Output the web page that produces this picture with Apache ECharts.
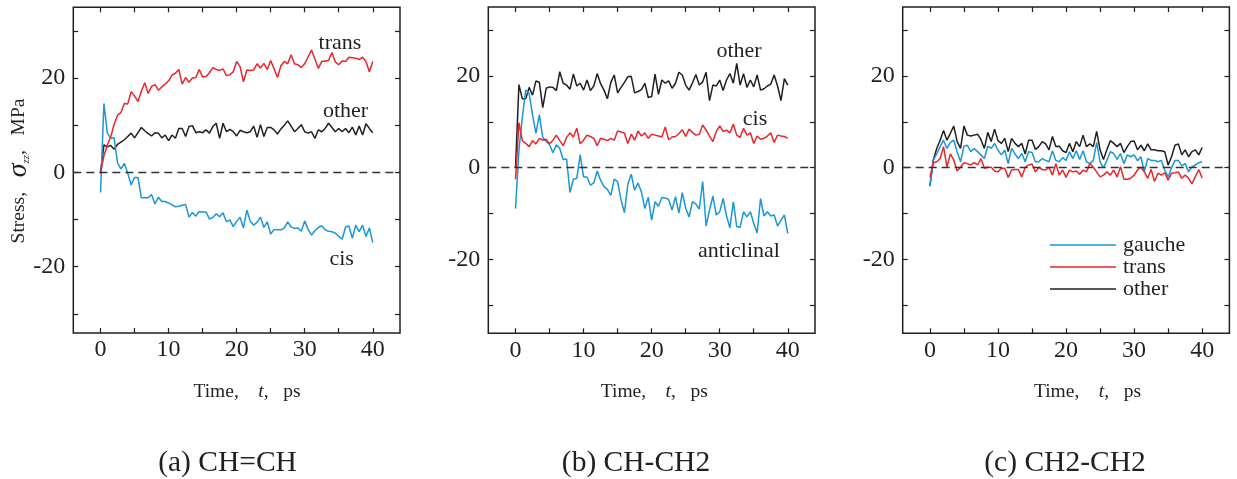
<!DOCTYPE html>
<html><head><meta charset="utf-8">
<script src="https://cdn.jsdelivr.net/npm/echarts@6/dist/echarts.min.js"></script>
<style>html,body{margin:0;padding:0;background:#fff}#c{width:1237px;height:479px}</style>
</head><body><div id="c"></div>
<script>
const time = [0,0.5,1,1.5,2,2.5,3,3.5,4,4.5,5,5.5,6,6.5,7,7.5,8,8.5,9,9.5,10,10.5,11,11.5,12,12.5,13,13.5,14,14.5,15,15.5,16,16.5,17,17.5,18,18.5,19,19.5,20,20.5,21,21.5,22,22.5,23,23.5,24,24.5,25,25.5,26,26.5,27,27.5,28,28.5,29,29.5,30,30.5,31,31.5,32,32.5,33,33.5,34,34.5,35,35.5,36,36.5,37,37.5,38,38.5,39,39.5,40];
// (a) CH=CH
const aTrans = [0,3.5,5.8,7.5,10.2,12.1,12.7,14.6,14.5,17.1,16.2,15.0,17.2,19.0,16.7,18.2,18.6,17.4,18.1,18.7,19.4,20.6,21.0,21.8,18.7,20.1,19.1,20.0,20.1,21.8,20.2,20.3,21.1,22.2,21.8,21.6,21.9,20.5,20.7,21.3,23.5,22.4,19.2,21.7,21.6,21.7,23.0,22.1,23.1,21.8,23.7,21.9,20.1,22.6,23.5,23.0,24.9,23.0,22.8,22.2,23.0,24.5,25.9,24.0,22.0,23.5,23.6,23.7,25.4,23.4,22.8,23.6,23.5,24.4,24.3,24.2,23.9,24.4,23.5,21.3,23.5];
const aOther = [0,5.8,5.4,5.7,4.9,5.9,6.4,6.9,7.6,8.3,7.3,8.4,9.5,8.8,8.2,7.7,8.4,8.3,7.3,7.9,6.7,7.9,7.2,9.3,9.3,7.6,9.7,9.9,8.4,8.6,8.4,9.0,8.3,9.7,10.4,7.2,10.4,8.6,9.1,8.6,7.7,8.9,8.6,8.4,8.6,9.8,7.4,10.1,7.6,9.5,9.5,9.0,8.1,9.2,10.0,10.9,9.8,8.6,9.3,10.1,8.6,8.3,8.6,7.2,9.0,8.6,9.3,10.4,9.5,8.6,9.3,8.6,9.3,8.4,9.6,7.9,9.8,7.9,10.3,9.3,8.4];
const aCis = [-4.3,14.6,8.3,7.2,7.3,2.0,0.7,1.9,-0.2,-2.7,-1.1,-1.1,-5.4,-5.4,-5.4,-4.7,-6.7,-5.3,-6.2,-6.2,-6.5,-6.9,-7.3,-7.2,-7.0,-6.8,-9.5,-8.5,-9.3,-8.3,-8.4,-8.4,-9.9,-9.6,-8.8,-9.4,-8.6,-10.5,-10.1,-11.5,-10.4,-9.5,-11.8,-8.0,-10.4,-11.2,-10.6,-9.5,-11.7,-10.5,-13.1,-12.1,-12.2,-12.2,-11.8,-10.5,-11.6,-11.9,-11.8,-12.5,-10.3,-12.1,-13.3,-12.4,-11.7,-11.3,-12.2,-12.5,-12.6,-12.9,-13.6,-14.2,-11.6,-11.4,-14.0,-11.2,-12.6,-11.2,-13.6,-11.8,-14.9];
// (b) CH-CH2
const bOther = [0,18.1,15.0,15.0,17.5,15.8,18.9,18.6,13.1,17.3,17.6,17.5,16.8,20.9,18.4,18.0,17.1,20.4,17.8,18.4,16.9,19.1,16.8,17.8,20.5,18.3,16.9,15.0,18.6,20.2,16.3,17.5,18.6,19.8,19.9,16.3,16.6,17.0,18.4,15.3,15.5,20.4,16.0,19.1,18.4,18.9,17.3,18.4,20.8,20.2,18.0,16.9,18.5,20.3,18.0,18.7,20.8,14.6,18.0,17.8,19.1,16.8,19.1,20.5,18.4,22.7,18.0,20.5,17.5,19.1,17.6,20.2,16.9,17.2,17.8,18.2,20.2,17.8,14.6,19.4,18.0];
const bCis = [-2.5,9.8,5.9,5.3,4.6,5.9,5.2,6.4,6.0,6.2,5.2,6.0,7.1,5.9,4.8,6.6,7.6,6.7,8.6,5.2,6.0,7.1,6.8,6.4,4.8,6.4,6.2,5.9,6.4,6.0,8.0,7.8,7.5,5.3,7.3,6.0,8.0,6.9,7.6,6.4,7.3,7.1,6.9,6.7,8.9,6.1,6.7,6.8,7.4,8.3,6.8,8.4,7.7,7.1,7.3,9.3,8.2,6.9,5.7,7.9,9.1,7.9,8.2,7.6,9.5,7.1,6.6,8.6,7.1,7.6,5.3,6.9,6.2,6.4,6.9,7.6,5.5,7.1,6.9,6.8,6.4];
const bAnticlinal = [-8.9,3.8,11.0,16.9,16.2,11.5,7.5,11.5,6.6,5.7,5.0,3.3,5.0,4.2,1.8,1.9,-5.4,-2.5,-2.3,2.8,-2.0,-2.0,-3.8,-3.3,-0.7,-2.7,-4.1,-4.7,-6.0,-2.5,-3.0,-7.0,-9.8,-3.6,-1.4,-4.9,-3.3,-5.3,-8.9,-6.4,-11.4,-7.4,-8.4,-6.5,-6.6,-6.9,-9.2,-6.3,-9.9,-5.4,-8.8,-10.7,-7.4,-7.9,-9.0,-3.0,-12.7,-9.2,-6.2,-10.3,-9.6,-6.7,-10.5,-13.1,-7.4,-12.8,-13.0,-9.6,-10.7,-9.6,-12.1,-14.2,-6.7,-10.5,-9.6,-10.5,-10.3,-12.7,-11.4,-10.3,-14.3];
// (c) CH2-CH2
const cGauche = [-4.0,1.7,3.0,4.6,6.0,4.2,5.5,6.0,3.5,1.3,4.7,4.9,3.5,4.2,3.5,2.8,2.0,4.7,4.2,5.3,3.8,2.8,3.8,0.9,4.2,3.0,2.0,3.1,1.3,3.5,3.3,1.3,1.3,2.0,1.6,1.3,3.7,1.6,1.3,2.2,1.6,3.5,2.0,3.7,1.8,3.7,1.3,0.9,1.6,5.5,1.3,0.0,1.6,3.5,3.1,1.8,3.1,0.9,2.8,2.4,2.8,1.5,2.4,-0.9,2.0,1.6,1.6,1.3,1.6,-0.5,-2.0,0.0,1.6,1.6,0.4,0.9,-0.9,0.2,0.6,1.1,1.3];
const cTrans = [-2.0,1.1,1.3,2.0,4.6,0.2,3.0,1.7,-0.7,0.1,1.1,0.9,0.6,1.1,0.6,2.0,-0.1,0.1,0.1,-0.7,-0.9,-0.1,-0.1,-2.1,-0.5,-0.4,-0.4,-2.0,0.1,0.6,0.8,-0.9,0.1,-0.4,-0.5,0.1,-1.6,0.9,-1.6,-0.5,-2.1,-0.5,-0.9,-0.7,-1.4,-0.5,-0.9,0.9,0.1,-0.9,-2.0,-1.6,-0.9,-1.6,-0.5,-2.0,0.2,-2.5,-2.5,-2.3,-1.6,-0.5,0.1,-0.9,-2.3,-0.4,-3.0,-1.2,-1.6,-1.1,-2.7,-1.2,-1.1,-0.9,-2.3,-1.6,-2.3,-3.5,-1.9,-0.4,-2.3];
const cOther = [-4.0,1.7,4.2,6.0,8.1,6.0,7.5,9.1,5.7,4.2,9.1,7.1,6.9,7.1,7.3,6.1,4.2,7.7,5.7,8.4,5.9,5.3,6.4,3.5,6.4,5.3,4.6,5.3,3.0,6.0,6.0,4.0,4.6,5.7,5.2,3.9,6.8,4.6,4.7,3.7,3.3,5.3,3.5,5.7,4.6,7.1,4.6,5.2,4.6,7.9,3.9,1.8,3.9,5.9,5.3,4.6,5.3,3.3,4.6,5.7,5.8,3.9,4.9,3.7,5.2,3.9,3.9,3.7,3.7,3.5,0.6,2.4,4.9,5.2,2.8,3.9,2.4,3.5,3.9,2.8,4.4];
// ticks and labels
const xTicks = [0,5,10,15,20,25,30,35,40];
const xLabels = [0,10,20,30,40];
const yTicks = [-30,-20,-10,0,10,20,30];
const yLabels = [-20,0,20];
const captions = ['(a) CH=CH','(b) CH-CH2','(c) CH2-CH2'];
const legendNames = ['gauche','trans','other'];

const SERIF = 'Liberation Serif';
const INK = '#231f20';
const RED = '#e8262b', BLUE = '#1b96d6', BLACK = '#231f20';

const grids = [
  {left:73.3, top:7.3, width:326.7, height:325.7, ymin:-34.07, ymax:34.98},
  {left:488.3, top:7, width:326.7, height:326.3, ymin:-36.05, ymax:35.0},
  {left:902.7, top:7, width:326.7, height:326.3, ymin:-36.05, ymax:35.0}
];
const tickStyle = {show:true, inside:true, length:5, lineStyle:{color:INK, width:1.2}};
const noLine = {show:false, onZero:false};
const xAxis = [], yAxis = [];
grids.forEach((g,i)=>{
  xAxis.push({type:'value', gridIndex:i, min:-4, max:44, position:'bottom',
    axisLine:noLine, splitLine:{show:false},
    axisTick:Object.assign({customValues:xTicks}, tickStyle),
    axisLabel:{customValues:xLabels, fontFamily:SERIF, fontSize:24, color:INK, margin:5}});
  xAxis.push({type:'value', gridIndex:i, min:-4, max:44, position:'top',
    axisLine:noLine, splitLine:{show:false},
    axisTick:Object.assign({customValues:xTicks}, tickStyle),
    axisLabel:{show:false}});
  yAxis.push({type:'value', gridIndex:i, min:g.ymin, max:g.ymax, position:'left',
    axisLine:noLine, splitLine:{show:false},
    axisTick:Object.assign({customValues:yTicks}, tickStyle),
    axisLabel:{customValues:yLabels, fontFamily:SERIF, fontSize:24, color:INK, margin:8}});
  yAxis.push({type:'value', gridIndex:i, min:g.ymin, max:g.ymax, position:'right',
    axisLine:noLine, splitLine:{show:false},
    axisTick:Object.assign({customValues:yTicks}, tickStyle),
    axisLabel:{show:false}});
});

function pts(arr){ return time.map((t,k)=>[t, arr[k]]); }
function line(name, arr, color, gi, zeroLine){
  const s = {name, type:'line', xAxisIndex:2*gi, yAxisIndex:2*gi, data:pts(arr),
    symbol:'none', showSymbol:false, animation:false,
    lineStyle:{color, width:1.5}, itemStyle:{color}};
  if (zeroLine) s.markLine = {silent:true, symbol:'none', animation:false,
    label:{show:false}, lineStyle:{color:'#333', width:1.3, type:[8,5]}, data:[{yAxis:0}]};
  return s;
}
const series = [
  line('a-other', aOther, BLACK, 0, true),
  line('a-cis', aCis, BLUE, 0, false),
  line('a-trans', aTrans, RED, 0, false),
  line('b-other', bOther, BLACK, 1, true),
  line('b-anticlinal', bAnticlinal, BLUE, 1, false),
  line('b-cis', bCis, RED, 1, false),
  line('other', cOther, BLACK, 2, true),
  line('gauche', cGauche, BLUE, 2, false),
  line('trans', cTrans, RED, 2, false)
];

function txt(x, y, text, size, extra){
  return {type:'text', x, y, silent:true, style:Object.assign({text, fontFamily:SERIF, fontSize:size, fill:INK, align:'center', verticalAlign:'middle'}, extra||{})};
}
const timeRich = {r:{fontFamily:SERIF, fontSize:19.5, fill:INK}, i:{fontFamily:SERIF, fontSize:19.5, fontStyle:'italic', fill:INK}};
const timeText = '{r|Time,    }{i|t}{r|,   ps}';
const graphic = [
  txt(340, 43, 'trans', 22), txt(345.5, 111, 'other', 22), txt(341.7, 259.5, 'cis', 22),
  txt(739, 51, 'other', 22), txt(755, 119.5, 'cis', 22), txt(739, 251, 'anticlinal', 22),
  txt(247, 392, timeText, 19.5, {rich:timeRich}),
  txt(654.3, 392, timeText, 19.5, {rich:timeRich}),
  txt(1087.5, 392, timeText, 19.5, {rich:timeRich}),
  txt(227.5, 463, captions[0], 29.5), txt(636, 463, captions[1], 29.5), txt(1065, 463, captions[2], 29.5),
  {type:'text', x:19, y:171, rotation:Math.PI/2, silent:true,
   style:{text:'{r|Stress,   }{s|σ}{z|zz}{r|,   MPa}', align:'center', verticalAlign:'middle',
     rich:{r:{fontFamily:SERIF, fontSize:19.5, fill:INK, lineHeight:26},
           s:{fontFamily:SERIF, fontSize:28, fontStyle:'italic', fill:INK, lineHeight:26},
           z:{fontFamily:SERIF, fontSize:11, fontStyle:'italic', fill:INK, lineHeight:11, verticalAlign:'bottom'}}}}
];

const chart = echarts.init(document.getElementById('c'), null, {renderer:'canvas'});
chart.setOption({
  backgroundColor:'#fff', animation:false,
  grid: grids.map(g=>({left:g.left, top:g.top, width:g.width, height:g.height, show:true, borderColor:INK, borderWidth:1.5, backgroundColor:'transparent', containLabel:false})),
  xAxis, yAxis, series, graphic,
  legend:{data:legendNames.map(n=>({name:n, icon:'rect'})), orient:'vertical', left:1045, top:229, itemWidth:66, itemHeight:1.6, itemGap:0, selectedMode:false,
    textStyle:{fontFamily:SERIF, fontSize:22, color:INK, lineHeight:22, padding:[0,0,0,2]}}
});
</script></body></html>
